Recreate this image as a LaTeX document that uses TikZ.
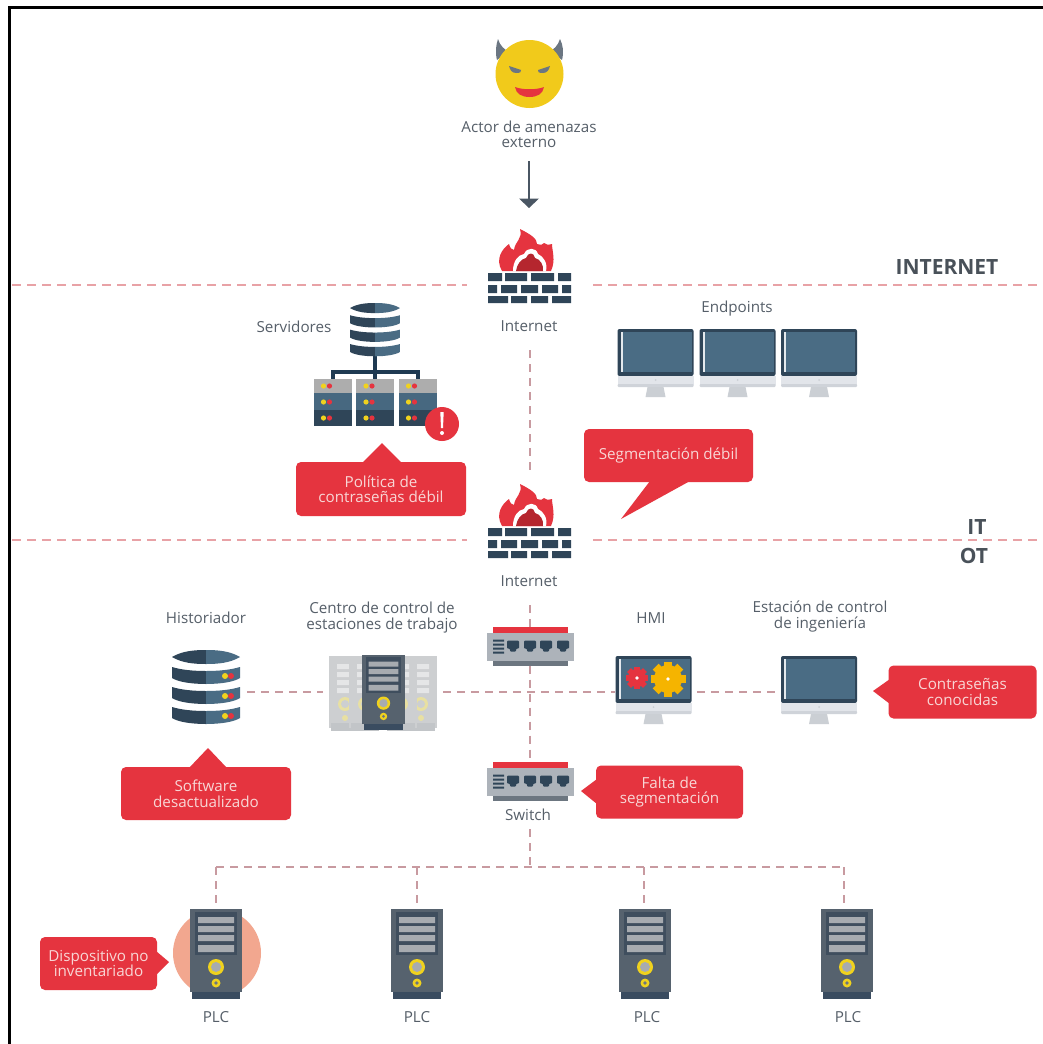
\documentclass[tikz,border=0pt]{standalone}
\usepackage{fontspec}
\setmainfont{Open Sans}
\definecolor{navy}{HTML}{2F4558}
\definecolor{steel}{HTML}{4A6C84}
\definecolor{alertred}{HTML}{E5343F}
\definecolor{txtgrey}{HTML}{565F69}
\definecolor{calltxt}{HTML}{F8D6D5}
\definecolor{zonedash}{HTML}{E8A2A6}
\definecolor{linkdash}{HTML}{C89AA0}
\definecolor{yel}{HTML}{F0D21E}
\definecolor{darkred}{HTML}{B5262E}
\definecolor{hornc}{HTML}{6B7682}
\definecolor{arrowc}{HTML}{4A5663}
\definecolor{wire}{HTML}{1F3A52}
\definecolor{bodyc}{HTML}{56626E}
\definecolor{panelc}{HTML}{3F4E5E}
\definecolor{basec}{HTML}{3A4C60}
\definecolor{barc}{HTML}{A7ABB0}
\definecolor{bezelc}{HTML}{E2E5EA}
\definecolor{bezeld}{HTML}{CFD3D9}
\definecolor{neckc}{HTML}{CBCFD4}
\definecolor{gearc}{HTML}{F5B400}
\definecolor{plchalo}{HTML}{F2A78F}
\definecolor{palebody}{HTML}{CDCFD1}
\definecolor{palebar}{HTML}{E5E6E7}
\definecolor{palebase}{HTML}{C2C5C8}
\definecolor{palecirc}{HTML}{E8E0A2}
\definecolor{switchc}{HTML}{ADB3BA}
\definecolor{switchd}{HTML}{6C7680}
\tikzset{
  lbl/.style={text=txtgrey,align=center,inner sep=0pt,font=\fontsize{15.2}{15.5}\selectfont},
  zonelbl/.style={text=txtgrey!85!black,inner sep=0pt,font=\fontsize{21}{22}\selectfont\bfseries},
  callout/.style={fill=alertred,rounded corners=5pt,text=calltxt,align=center,inner sep=0pt,font=\fontsize{15.2}{15.5}\selectfont},
  tailfill/.style={fill=alertred},
  box/.style={inner sep=0pt,outer sep=0pt},
  zoneline/.style={draw=zonedash,line width=1.6pt,dash pattern=on 9pt off 6pt},
  linkline/.style={draw=linkdash,line width=1.4pt,dash pattern=on 8pt off 6pt},
  firewall/.pic={
    \fill[alertred] (-28,-14) .. controls (-35,-26) and (-28,-36) .. (-21,-41) .. controls (-20,-37) and (-18,-35) .. (-16,-35) .. controls (-15,-44) and (-7,-46) .. (-10,-56) .. controls (2,-50) and (7,-46) .. (7,-41) .. controls (11,-40) and (13,-40) .. (14,-42) .. controls (16,-40) and (18,-40) .. (22,-41) .. controls (22,-34) and (26,-25) .. (21,-14) -- cycle;
    \fill[white] (-17,-14) .. controls (-17,-24) and (-12,-30) .. (-6,-31) .. controls (-3,-38) and (6,-38) .. (8,-31) .. controls (13,-29) and (18,-22) .. (16,-14) -- cycle;
    \fill[darkred] (-14,-14) .. controls (-13,-21) and (-9,-26) .. (-4,-27) .. controls (-2,-33) and (4,-33) .. (5,-27) .. controls (10,-26) and (14,-20) .. (13,-14) -- cycle;
    \fill[navy]
      (-42,-12) rectangle (-28,-4) (-25,-12) rectangle (-3,-4) (1,-12) rectangle (24,-4) (28,-12) rectangle (41,-4)
      (-42,0) rectangle (-33,8) (-29,0) rectangle (-13,8) (-9,0) rectangle (8,8) (12,0) rectangle (28,8) (32,0) rectangle (41,8)
      (-42,11) rectangle (-22,18) (-19,11) rectangle (-3,18) (1,11) rectangle (18,18) (22,11) rectangle (41,18);
  },
  monitor/.pic={
    \fill[navy,rounded corners=2pt] (-38,0) rectangle (38,47);
    \fill[steel] (-35,3) rectangle (36,43);
    \fill[white!85!steel] (-35,3) rectangle (-33,43);
    \fill[bezelc] (-38,47) rectangle (38,56);
    \fill[bezeld,rounded corners=1pt] (-38,55) rectangle (38,58);
    \fill[neckc] (-8,58) -- (8,58) -- (10,68) -- (-10,68) -- cycle;
    \fill[neckc] (0,51) circle (1);
  },
  dbstack/.pic={
    \fill[navy] (-34,7) .. controls (-24,1) and (-12,0) .. (0,0) -- (0,14) .. controls (-12,14) and (-24,13) .. (-34,7) -- cycle;
    \fill[steel] (34,7) .. controls (24,1) and (12,0) .. (0,0) -- (0,14) .. controls (12,14) and (24,13) .. (34,7) -- cycle;
    \foreach \t in {17,37,57}{
      \fill[navy] (-34,\t) .. controls (-24,\t+3) and (-12,\t+4) .. (0,\t+4) -- (0,\t+17) .. controls (-14,\t+17) and (-28,\t+15) .. (-34,\t+11) -- cycle;
      \fill[steel] (34,\t) .. controls (24,\t+3) and (12,\t+4) .. (0,\t+4) -- (0,\t+17) .. controls (14,\t+17) and (28,\t+15) .. (34,\t+11) -- cycle;
    }
  },
  dbdots/.pic={
    \foreach \t in {26,46,66}{
      \fill[alertred] (25,\t) circle (3);
      \fill[yel] (19,\t) circle (3);
    }
  },
  rack/.pic={
    \fill[black!32] (-19,0) rectangle (19,14);
    \fill[steel!90!navy] (-19,14) rectangle (19,31);
    \fill[navy] (-19,31) rectangle (19,47);
    \foreach \t in {7,23,39}{
      \fill[yel] (-9,\t) circle (2.6);
      \fill[alertred] (-3,\t) circle (2.6);
    }
  },
  tower/.pic={
    \fill[bodyc] (-26,0) rectangle (26,83);
    \fill[basec] (-24,83) rectangle (24,90);
    \fill[panelc] (-21,3) rectangle (21,46);
    \fill[barc] (-18,8) rectangle (18,14) (-18,17) rectangle (18,23) (-18,26) rectangle (18,32) (-18,36) rectangle (18,43);
    \fill[yel] (0,58) circle (8);
    \fill[barc] (0,58) circle (5);
    \fill[yel] (0,74) circle (4.5);
    \fill[switchd] (0,74) circle (1.8);
  },
  paletower/.pic={
    \fill[palebody] (-16,0) rectangle (16,72);
    \fill[palebar] (-8,8) rectangle (8,13) (-8,16) rectangle (8,21) (-8,24) rectangle (8,29) (-8,32) rectangle (8,37);
    \fill[palecirc] (0,48) circle (7);
    \fill[palebody] (0,48) circle (4);
    \fill[palecirc] (0,62) circle (3);
    \fill[palebase] (-14,67) rectangle (14,75);
  },
  switchbox/.pic={
    \fill[alertred] (-37,0) rectangle (38,6);
    \fill[switchc] (-43,6) rectangle (44,34);
    \fill[switchd] (-37,34) rectangle (38,39);
    \fill[navy] (-37,13) rectangle (-26,15) (-37,17) rectangle (-26,19) (-37,21) rectangle (-26,23) (-37,25) rectangle (-26,27);
    \foreach \p in {-17,0,16,33}{
      \fill[navy,rounded corners=1pt] (\p-6,14) -- (\p+6,14) -- (\p+6,22) -- (\p+3,22) -- (\p+3,25) -- (\p-3,25) -- (\p-3,22) -- (\p-6,22) -- cycle;
    }
  }
}
\newcommand{\gearshape}[4]{% x, y, radius, colour
  \fill[#4] (#1,#2) circle (#3);
  \foreach \a in {0,45,...,135}{
    \fill[#4,shift={(#1,#2)},rotate=\a] (-0.3*#3,-1.25*#3) rectangle (0.3*#3,1.25*#3);
  }
  \fill[white] (#1,#2) circle (1.8);
}
\begin{document}
\begin{tikzpicture}[x=1pt,y=-1pt]
\useasboundingbox (0,0) rectangle (1043,1044);
\fill[white] (0,0) rectangle (1043,1044);
\draw[line width=3pt,line cap=butt] (9.5,1044) -- (9.5,7.5) -- (1043,7.5);

% anchors (invisible boxes around the icons)
\node[box,minimum width=126pt,minimum height=130pt] (fwA) at (530,285) {};
\node[box,minimum width=126pt,minimum height=130pt] (fwB) at (530,540) {};
\node[box,minimum width=87pt,minimum height=39pt] (swA) at (530,646) {};
\node[box,minimum width=87pt,minimum height=39pt] (swB) at (530,781) {};
\node[box,minimum width=82pt,minimum height=76pt] (hist) at (206,692) {};
\node[box,minimum width=120pt,minimum height=76pt] (ctrl) at (383,692) {};
\node[box,minimum width=82pt,minimum height=70pt] (hmi) at (656,692) {};
\node[box,minimum width=78pt,minimum height=70pt] (stat) at (819,692) {};
\node[lbl] (lblSwitch) at (528,815) {Switch};
\node[box,minimum width=52pt,minimum height=1pt] (plcA) at (216,905) {};
\node[box,minimum width=52pt,minimum height=1pt] (plcB) at (417,905) {};
\node[box,minimum width=52pt,minimum height=1pt] (plcC) at (644,905) {};
\node[box,minimum width=52pt,minimum height=1pt] (plcD) at (844,905) {};
\coordinate (zoneAL) at (12,285);
\coordinate (zoneAR) at (1043,285);
\coordinate (zoneBL) at (12,540);
\coordinate (zoneBR) at (1043,540);
\coordinate (busM) at (530,867);
\coordinate (busL) at (216,867);
\coordinate (busR) at (844,867);

% zone lines
\draw[zoneline] (zoneAL) -- (fwA.west);
\draw[zoneline] (fwA.east) -- (zoneAR);
\draw[zoneline] (zoneBL) -- (fwB.west);
\draw[zoneline] (fwB.east) -- (zoneBR);

% links
\draw[linkline] (fwA.south) -- (fwB.north);
\draw[linkline] (fwB.south) -- (swA.north);
\draw[linkline] (swA.south) -- (swB.north);
\draw[linkline] (hist.east) -- (ctrl.west);
\draw[linkline] (ctrl.east) -- (hmi.west);
\draw[linkline] (hmi.east) -- (stat.west);
\draw[linkline] ([yshift=-8pt]lblSwitch.south-|busM) -- (busM);
\draw[linkline] (busL) -- (busR);
\draw[linkline] (busL) -- (plcA.north);
\draw[linkline] (busL-|plcB) -- (plcB.north);
\draw[linkline] (busL-|plcC) -- (plcC.north);
\draw[linkline] (busR) -- (plcD.north);

% threat actor
\coordinate (actor) at (529.5,74);
\fill[hornc] (497,60) .. controls (495,52) and (496,45) .. (498,39) .. controls (500,46) and (505,50) .. (508,51) -- cycle;
\fill[hornc] (562,60) .. controls (564,52) and (563,45) .. (560,39) .. controls (558,46) and (553,50) .. (550,51) -- cycle;
\fill[yel!90!orange] (actor) circle (34);
\fill[hornc] (509,66) -- (521,70) .. controls (522,72) and (520,73) .. (516,73) .. controls (512,73) and (510,70) .. (509,66) -- cycle;
\fill[hornc] (550,66) -- (538,70) .. controls (537,72) and (539,73) .. (543,73) .. controls (547,73) and (549,70) .. (550,66) -- cycle;
\fill[alertred] (515,87) .. controls (522,90) and (537,90) .. (544,87) .. controls (543,94) and (537,97) .. (529.5,97) .. controls (522,97) and (516,94) .. (515,87) -- cycle;
\node[lbl] (lblActor) at (529,134.5) {Actor de amenazas\\externo};
\coordinate (arrowStart) at (529,161);
\coordinate (arrowEnd) at (529,208);
\draw[arrowc,line width=1.5pt] (arrowStart) -- (529,200);
\fill[arrowc] (519,198.5) -- (539,198.5) -- (arrowEnd) -- cycle;

% firewalls
\pic at (fwA.center) {firewall};
\pic at (fwB.center) {firewall};
\node[lbl] (lblFwA) at (529,326) {Internet};
\node[lbl] (lblFwB) at (529,581) {Internet};

% zone labels
\node[zonelbl] (zInternet) at (947,267) {INTERNET};
\node[zonelbl] (zIT) at (977,527) {IT};
\node[zonelbl] (zOT) at (974,556) {OT};

% servers
\node[lbl] (lblServ) at (294,327) {Servidores};
\draw[wire,line width=3.2pt] (375,356) -- (375,381);
\draw[wire,line width=3.2pt] (333,381) -- (333,372) -- (418,372) -- (418,381);
\pic[xscale=.735,yscale=.72] at (375,303) {dbstack};
\pic at (332.5,379) {rack};
\pic at (375,379) {rack};
\pic at (417.5,379) {rack};
\fill[alertred] (442,424) circle (17);
\fill[white] (440.3,412) -- (443.7,412) -- (443,428) -- (441,428) -- cycle;
\fill[white] (442,433) circle (2);
\node[callout,minimum width=170pt,minimum height=54pt] (cPol) at (381,489) {Política de\\contraseñas débil};
\fill[tailfill] (362,463) -- (382,443) -- (402,463) -- cycle;

% endpoints
\node[lbl] (lblEnd) at (737,309) {Endpoints};
\pic at (655.5,329) {monitor};
\pic at (737.5,329) {monitor};
\pic at (819,329) {monitor};

% weak segmentation
\node[callout,minimum width=169pt,minimum height=53pt] (cSeg) at (668.5,455.5) {Segmentación débil};
\fill[tailfill] (650,481) -- (621,519) -- (690,481) -- cycle;

% OT row
\node[lbl] (lblHist) at (206,618) {Historiador};
\pic at (206,650) {dbstack};
\pic at (206,650) {dbdots};
\node[callout,minimum width=170pt,minimum height=53pt] (cSoft) at (206,793.5) {Software\\desactualizado};
\fill[tailfill] (189,768) -- (208,748) -- (227,768) -- cycle;

\node[lbl] (lblCtrl) at (382,617.5) {Centro de control de\\estaciones de trabajo};
\pic at (345,656) {paletower};
\pic at (421,656) {paletower};
\pic at (365,656) {paletower};
\pic at (401,656) {paletower};
\pic[scale=.83] at (383.5,655) {tower};

\pic at (swA.north) {switchbox};
\pic at (swB.north) {switchbox};

\node[lbl] (lblHmi) at (651,618) {HMI};
\pic at (653.5,656) {monitor};
\gearshape{637}{678}{9}{alertred}
\gearshape{668}{679}{14}{gearc}

\node[lbl] (lblStat) at (820,616.5) {Estación de control\\de ingeniería};
\pic at (819,656) {monitor};
\node[callout,minimum width=148pt,minimum height=53pt] (cKnown) at (962.5,692) {Contraseñas\\conocidas};
\fill[tailfill] (890,679) -- (873,691) -- (890,704) -- cycle;

\node[callout,minimum width=147pt,minimum height=53pt] (cFalta) at (669.5,792) {Falta de\\segmentación};
\fill[tailfill] (597,779) -- (581,791) -- (597,804) -- cycle;

% PLCs
\fill[plchalo] (217,953) circle (44);
\pic at (216,909) {tower};
\pic at (417,909) {tower};
\pic at (645,909) {tower};
\pic at (847,909) {tower};
\node[lbl] (lblPlcA) at (216,1017) {PLC};
\node[lbl] (lblPlcB) at (417,1017) {PLC};
\node[lbl] (lblPlcC) at (647,1017) {PLC};
\node[lbl] (lblPlcD) at (848,1017) {PLC};
\node[callout,minimum width=117pt,minimum height=53pt] (cDisp) at (98.5,963.5) {Dispositivo no\\inventariado};
\fill[tailfill] (156,951) -- (169,962) -- (156,975) -- cycle;
\end{tikzpicture}
\end{document}
